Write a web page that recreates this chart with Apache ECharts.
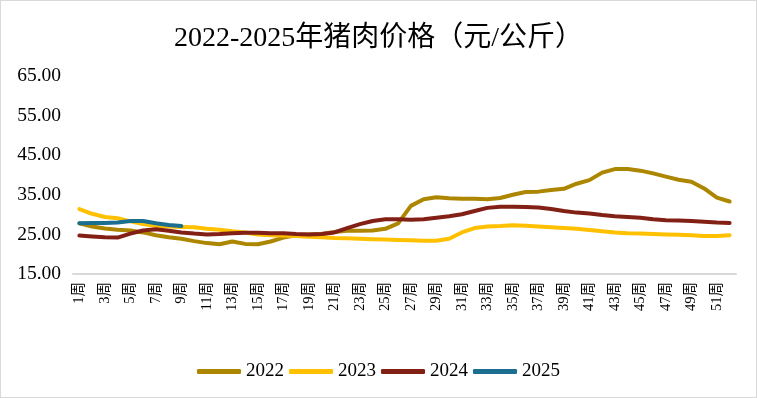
<!DOCTYPE html>
<html>
<head>
<meta charset="utf-8">
<script src="https://cdn.jsdelivr.net/npm/echarts@6/dist/echarts.min.js"></script>
<style>
html,body{margin:0;padding:0;background:#fff;}
#chart{width:755px;height:396px;border:1px solid #D9D9D9;}
</style>
</head>
<body>
<div id="chart"></div>
<script>
// 周次
var weeks = [];
for (var w = 1; w <= 52; w++) { weeks.push(w + '周'); }

var years = ['2022', '2023', '2024', '2025'];

// 猪肉价格 元/公斤
var price2022 = [27.8, 27.0, 26.5, 26.2, 26.0, 25.5, 24.8, 24.3, 23.9, 23.3,
  22.8, 22.5, 23.2, 22.6, 22.5, 23.2, 24.2, 24.8, 25.0, 25.1,
  25.6, 25.9, 25.9, 26.0, 26.4, 27.8, 32.2, 33.9, 34.4, 34.1,
  34.0, 34.0, 33.9, 34.2, 35.0, 35.7, 35.8, 36.2, 36.5, 37.8,
  38.7, 40.6, 41.5, 41.5, 41.1, 40.4, 39.6, 38.8, 38.3, 36.6,
  34.3, 33.3];
var price2023 = [31.4, 30.2, 29.4, 29.1, 28.3, 27.6, 27.1, 27.0, 26.9, 26.8,
  26.4, 26.2, 25.8, 25.5, 25.0, 24.8, 24.7, 24.6, 24.4, 24.3,
  24.1, 24.0, 23.9, 23.8, 23.7, 23.6, 23.5, 23.4, 23.4, 23.9,
  25.5, 26.6, 27.0, 27.1, 27.3, 27.2, 27.0, 26.8, 26.6, 26.4,
  26.1, 25.8, 25.5, 25.3, 25.2, 25.1, 25.0, 24.9, 24.8, 24.6,
  24.6, 24.8];
var price2024 = [24.7, 24.5, 24.3, 24.2, 25.2, 26.0, 26.3, 25.9, 25.5, 25.2,
  25.0, 25.1, 25.3, 25.4, 25.4, 25.3, 25.3, 25.1, 25.0, 25.1,
  25.5, 26.6, 27.6, 28.4, 28.8, 28.8, 28.7, 28.8, 29.2, 29.6,
  30.1, 30.9, 31.7, 32.0, 32.0, 31.9, 31.8, 31.4, 30.9, 30.5,
  30.3, 29.9, 29.6, 29.4, 29.2, 28.8, 28.6, 28.5, 28.4, 28.2,
  28.0, 27.9];
var price2025 = [27.8, 27.9, 27.9, 28.0, 28.4, 28.4, 27.8, 27.4, 27.1];

var colors = ['#AD8600', '#FFC000', '#832016', '#1B6E90'];
var allData = [price2022, price2023, price2024, price2025];

var serif = '"Liberation Serif", "Noto Sans CJK SC", serif';

var series = [];
for (var i = 0; i < years.length; i++) {
  series.push({
    name: years[i],
    type: 'line',
    data: allData[i],
    symbol: 'none',
    smooth: false,
    lineStyle: { width: 4, color: colors[i], cap: 'round', join: 'round' },
    itemStyle: { color: colors[i] }
  });
}

var myChart = echarts.init(document.getElementById('chart'));
myChart.setOption({
  animation: false,
  title: {
    text: '2022-2025年猪肉价格（元/公斤）',
    left: 'center',
    top: 19,
    textStyle: { fontFamily: serif, fontSize: 28, fontWeight: 'normal', color: '#000' }
  },
  legend: {
    data: years,
    top: 356,
    left: 'center',
    itemWidth: 44,
    itemHeight: 5,
    itemGap: 5,
    icon: 'roundRect',
    textStyle: { fontFamily: serif, fontSize: 19, color: '#000' }
  },
  grid: { left: 72, right: 20, top: 75, bottom: 123 },
  xAxis: {
    type: 'category',
    data: weeks,
    boundaryGap: true,
    axisLine: { lineStyle: { color: '#D9D9D9', width: 2 } },
    axisTick: { show: false },
    axisLabel: {
      interval: 1,
      rotate: 90,
      margin: 8,
      fontFamily: serif,
      fontSize: 14.5,
      color: '#000'
    }
  },
  yAxis: {
    type: 'value',
    min: 15,
    max: 65,
    interval: 10,
    axisLine: { show: false },
    axisTick: { show: false },
    splitLine: { show: false },
    axisLabel: {
      margin: 12,
      fontFamily: serif,
      fontSize: 19.5,
      color: '#000',
      formatter: function (v) { return v.toFixed(2); }
    }
  },
  series: series
});
</script>
</body>
</html>
